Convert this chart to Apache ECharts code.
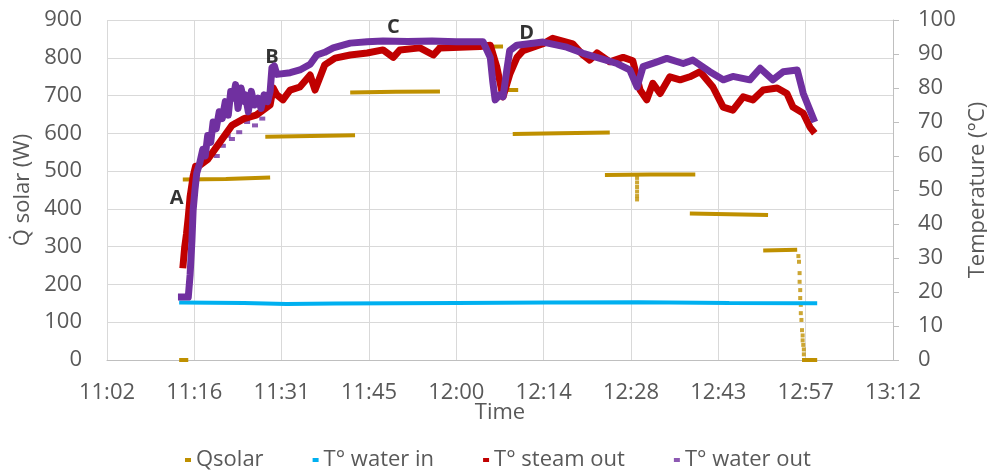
<!DOCTYPE html>
<html>
<head>
<meta charset="utf-8">
<script src="https://cdn.jsdelivr.net/npm/echarts@6/dist/echarts.min.js"></script>
<style>
  html, body { margin: 0; padding: 0; background: #fff; }
  #main { width: 987px; height: 471px; }
</style>
</head>
<body>
<div id="main"></div>
<script>
// time in minutes since midnight
var xTicks = { min: 662.4, max: 792, step: 14.4 }; // 0.46 .. 0.55 day

// Qsolar (W), segments split by null
var qsolar = [
  [674.3, 0], [675.8, 0], null,
  [674.9, 478], [682.0, 479], [689.3, 483], null,
  [688.5, 591], [696.0, 593], [703.3, 595], null,
  [702.5, 708], [710.0, 710], [717.3, 711], null,
  [716.8, 828], [727.7, 830], null,
  [728.4, 715], [730.2, 715], null,
  [729.3, 598], [737.0, 600], [745.3, 602], null,
  [744.5, 490], [752.0, 491], [759.4, 491], null,
  [758.5, 388], [765.0, 386], [771.4, 384], null,
  [770.6, 290], [776.2, 292], null,
  [777.0, 0], [779.5, 0]
];
// Qsolar transient points
var qsolarDrops = [
  [749.8, 482], [749.8, 470], [749.8, 458], [749.8, 446], [749.8, 434], [749.8, 425],
  [776.4, 275], [776.5, 260], [776.6, 230], [776.6, 207], [776.7, 185], [776.7, 164],
  [776.8, 146], [776.8, 124], [776.9, 106], [777.0, 79], [777.1, 65], [777.1, 52],
  [777.2, 40], [777.3, 28], [777.3, 15]
];

// T° water in (°C)
var waterIn = [
  [674.3, 16.9], [685, 16.8], [692, 16.5], [700, 16.6], [710, 16.7], [720, 16.8],
  [735, 16.9], [750, 17.0], [765, 16.8], [779.5, 16.7]
];

// T° steam out (°C)
var steamOut = [
  [674.9, 27], [675.2, 33], [675.5, 37], [675.8, 42], [676.1, 48], [676.6, 54],
  [677.0, 57], [677.5, 57], [679.0, 59], [681.0, 64], [683.0, 69], [685.0, 71],
  [687.0, 72], [689.3, 75], [689.8, 80], [690.4, 78], [691.4, 76.5], [692.6, 79.4],
  [694.2, 80.3], [695.9, 83.8], [696.7, 79.4], [698.3, 86.8], [700.0, 88.8],
  [702.5, 89.7], [705.3, 90.3], [707.9, 91.2], [709.6, 89], [710.7, 91.2],
  [714.0, 91.8], [716.2, 89.7], [717.3, 91.8], [720.6, 92], [723.9, 92.2],
  [725.6, 92.6], [726.7, 86], [727.7, 77.4], [728.8, 84], [730.0, 89], [731.0, 91],
  [734.3, 93], [735.9, 94.6], [739.2, 93], [740.9, 89.7], [742.0, 88.2],
  [743.2, 90.3], [745.3, 87.7], [747.5, 89], [749.1, 88], [750.3, 79.4],
  [751.4, 76.5], [752.4, 81.4], [753.6, 78.4], [755.2, 83.3], [756.9, 82.4],
  [758.5, 83.3], [760.2, 84.8], [762.3, 80.3], [764.0, 74.4], [765.6, 73.5],
  [767.3, 77.4], [768.9, 76.5], [770.6, 79.4], [772.9, 80], [774.5, 78.4],
  [775.5, 74.4], [777.2, 72.6], [778.3, 68.5], [779.1, 66.7]
];

// T° water out (°C)
var waterOut = [
  [674.1, 18.5], [675.8, 18.5], [676.1, 25], [676.4, 35], [676.6, 44], [676.9, 50],
  [677.2, 55], [677.7, 58], [678.2, 62], [678.6, 60], [679.0, 66], [679.5, 64],
  [679.9, 70], [680.4, 68], [680.9, 73], [681.4, 71], [681.9, 76], [682.4, 72],
  [682.8, 79], [683.2, 77], [683.6, 81], [684.0, 74], [684.5, 80], [685.0, 76],
  [685.2, 78], [685.7, 73], [686.2, 79], [686.7, 75], [687.3, 77], [687.8, 74],
  [688.3, 78], [688.9, 76], [689.3, 79], [689.6, 86], [690.0, 86.5], [690.4, 84],
  [692.6, 84.5], [694.2, 85.3], [695.9, 87], [697.0, 89.7], [698.3, 90.5],
  [699.7, 91.8], [702.5, 93.2], [705.3, 93.6], [707.9, 93.8], [712.0, 93.7],
  [716.0, 93.8], [720.0, 93.6], [724.4, 93.6], [725.6, 89], [726.0, 82],
  [726.4, 76.5], [727.2, 78], [727.7, 77.4], [728.3, 85], [728.8, 91], [730.0, 92.6],
  [734.3, 93.5], [738.2, 92], [740.9, 90.2], [743.7, 88.7], [746.5, 87.2],
  [748.6, 85.3], [749.8, 80.3], [750.8, 86.3], [753.1, 87.7], [754.7, 88.7],
  [757.4, 87.2], [759.0, 88.2], [761.8, 84.8], [764.0, 82.4], [765.6, 83.4],
  [768.4, 82.4], [770.1, 85.8], [772.2, 82.4], [773.9, 84.8], [776.2, 85.3],
  [777.2, 78.4], [779.1, 70]
];
// scattered water-out readings during warm-up
var waterOutSpread = [
  [680.5, 60], [681.5, 63], [682.3, 66], [683.0, 65], [684.2, 67], [685.5, 70],
  [686.8, 69], [688.0, 71], [683.8, 70], [686.0, 72]
];

// point labels [text, time, °C]
var pointLabels = [
  ['A', 673.9, 47.6], ['B', 689.6, 89.1], ['C', 709.6, 98.0], ['D', 731.6, 96.2]
];

var cQ = '#BF9000', cIn = '#00B0F0', cSteam = '#C00000', cOut = '#7030A0';
var txt = '#595959';
var font = 'Open Sans';

function fmtTime(v) {
  v = Math.round(v * 10) / 10;
  var h = Math.floor(v / 60);
  var m = Math.floor(v - h * 60);
  return h + ':' + (m < 10 ? '0' + m : m);
}

var myChart = echarts.init(document.getElementById('main'));
myChart.setOption({
  animation: false,
  textStyle: { fontFamily: font },
  grid: { left: 107, right: 94, top: 20, bottom: 111, outerBoundsMode: 'none', containLabel: false },
  legend: {
    top: 444,
    left: 180,
    icon: 'rect',
    itemWidth: 6,
    itemHeight: 4,
    itemGap: 49,
    textStyle: { color: txt, fontSize: 22, fontFamily: font },
    data: ['Qsolar', 'T° water in', 'T° steam out', 'T° water out']
  },
  xAxis: {
    type: 'value',
    min: xTicks.min,
    max: xTicks.max,
    interval: xTicks.step,
    name: 'Time',
    nameLocation: 'middle',
    nameGap: 42,
    nameMoveOverlap: false,
    nameTextStyle: { color: txt, fontSize: 22 },
    axisLine: { lineStyle: { color: '#BFBFBF' } },
    axisTick: { show: false },
    axisLabel: { color: txt, fontSize: 22, margin: 22, formatter: fmtTime },
    splitLine: { show: true, lineStyle: { color: '#D9D9D9' } }
  },
  yAxis: [{
    type: 'value',
    min: 0,
    max: 900,
    interval: 100,
    name: 'Q\u0307 solar (W)',
    nameLocation: 'middle',
    nameRotate: 90,
    nameGap: 64,
    nameTextStyle: { color: txt, fontSize: 22 },
    axisLine: { show: false },
    axisTick: { show: false },
    axisLabel: { color: txt, fontSize: 22, margin: 25 },
    splitLine: { lineStyle: { color: '#D9D9D9' } }
  }, {
    type: 'value',
    min: 0,
    max: 100,
    interval: 10,
    name: 'Temperature (°C)',
    nameLocation: 'middle',
    nameRotate: 90,
    nameGap: 67,
    nameTextStyle: { color: txt, fontSize: 22 },
    axisLine: { show: true, lineStyle: { color: '#BFBFBF' } },
    axisTick: { show: true, inside: false, length: 6, lineStyle: { color: '#BFBFBF' } },
    axisLabel: { color: txt, fontSize: 22, margin: 25 },
    splitLine: { show: false }
  }],
  series: [{
    name: 'Qsolar',
    type: 'line',
    data: qsolar,
    showSymbol: false,
    connectNulls: false,
    lineStyle: { color: cQ, width: 4 },
    itemStyle: { color: cQ }
  }, {
    name: 'Qsolar',
    type: 'scatter',
    data: qsolarDrops,
    symbol: 'rect',
    symbolSize: [4, 4],
    itemStyle: { color: cQ }
  }, {
    name: 'T° water in',
    type: 'line',
    yAxisIndex: 1,
    data: waterIn,
    showSymbol: false,
    lineStyle: { color: cIn, width: 4 },
    itemStyle: { color: cIn }
  }, {
    name: 'T° steam out',
    type: 'line',
    yAxisIndex: 1,
    data: steamOut,
    showSymbol: false,
    lineStyle: { color: cSteam, width: 7, join: 'round' },
    itemStyle: { color: cSteam }
  }, {
    name: 'T° water out',
    type: 'scatter',
    yAxisIndex: 1,
    data: waterOutSpread,
    symbol: 'rect',
    symbolSize: [6, 4],
    itemStyle: { color: cOut }
  }, {
    name: 'T° water out',
    type: 'line',
    yAxisIndex: 1,
    data: waterOut,
    showSymbol: false,
    lineStyle: { color: cOut, width: 7, join: 'round' },
    itemStyle: { color: cOut }
  }, {
    name: 'labels',
    type: 'scatter',
    yAxisIndex: 1,
    symbolSize: 0,
    data: pointLabels.map(function (p) { return { name: p[0], value: [p[1], p[2]] }; }),
    label: {
      show: true,
      position: 'inside',
      formatter: '{b}',
      color: '#000',
      fontSize: 20,
      fontWeight: 'bold',
      fontFamily: font
    }
  }]
});
</script>
</body>
</html>
